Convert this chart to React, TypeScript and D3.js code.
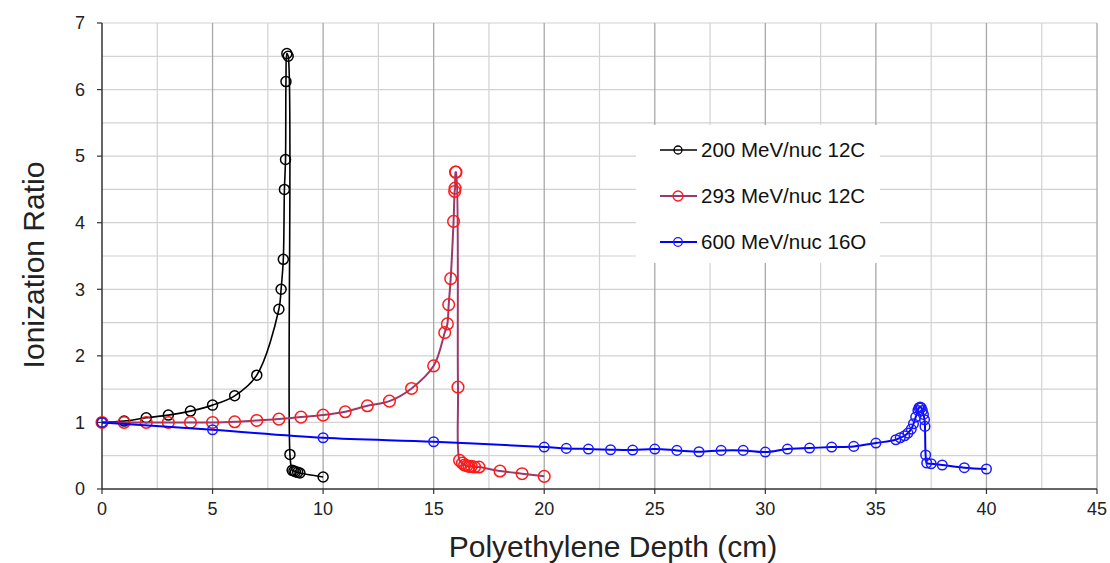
import React from "react";
import * as d3 from "d3";

const xTicks = [0, 5, 10, 15, 20, 25, 30, 35, 40, 45];
const yTicks = [0, 1, 2, 3, 4, 5, 6, 7];

const c200X = [0, 1, 2, 3, 4, 5, 6, 7, 8, 8.1, 8.2, 8.25, 8.3, 8.32, 8.36, 8.42, 8.5, 8.6, 8.68, 8.75, 8.85, 8.95, 10];
const c200Y = [1.0, 1.02, 1.07, 1.11, 1.17, 1.26, 1.4, 1.71, 2.7, 3.0, 3.45, 4.5, 4.95, 6.12, 6.54, 6.5, 0.52, 0.28, 0.27, 0.26, 0.25, 0.24, 0.18];

const c293X = [0, 1, 2, 3, 4, 5, 6, 7, 8, 9, 10, 11, 12, 13, 14, 15, 15.5, 15.62, 15.68, 15.77, 15.9, 15.95, 15.97, 15.99, 16.01, 16.1, 16.17, 16.3, 16.4, 16.5, 16.6, 16.7, 16.85, 17.05, 18, 19, 20];
const c293Y = [1.0, 1.0, 1.0, 1.0, 1.0, 1.0, 1.01, 1.03, 1.05, 1.08, 1.11, 1.16, 1.25, 1.32, 1.51, 1.85, 2.35, 2.48, 2.77, 3.16, 4.02, 4.47, 4.52, 4.76, 4.76, 1.53, 0.43, 0.39, 0.36, 0.35, 0.34, 0.34, 0.33, 0.33, 0.27, 0.23, 0.19];

const o600X = [0, 5, 10, 15, 20, 21, 22, 23, 24, 25, 26, 27, 28, 29, 30, 31, 32, 33, 34, 35, 35.9, 36.1, 36.3, 36.45, 36.6, 36.7, 36.8, 36.9, 36.95, 37.0, 37.05, 37.1, 37.15, 37.2, 37.22, 37.25, 37.3, 37.5, 38, 39, 40];
const o600Y = [1.0, 0.89, 0.77, 0.71, 0.63, 0.61, 0.6, 0.59, 0.585, 0.6, 0.58, 0.56, 0.58, 0.58, 0.555, 0.6, 0.615, 0.63, 0.64, 0.69, 0.74, 0.77, 0.8, 0.84, 0.9, 0.98, 1.08, 1.18, 1.22, 1.23, 1.22, 1.18, 1.12, 1.04, 0.94, 0.51, 0.39, 0.38, 0.36, 0.32, 0.3];

const seriesNames = ["200 MeV/nuc 12C", "293 MeV/nuc 12C", "600 MeV/nuc 16O"];

const FONT = "'Liberation Sans', Arial, sans-serif";

export default function App() {
  const W = 1110, H = 563;
  const x = d3.scaleLinear().domain([0, 45]).range([102, 1097]);
  const y = d3.scaleLinear().domain([0, 7]).range([489, 23]);

  const series = [
    { name: seriesNames[0], xs: c200X, ys: c200Y, line: "#000000", marker: "#000000", r: 5, lr: 4, lw: 1.6 },
    { name: seriesNames[1], xs: c293X, ys: c293Y, line: "#9a3a6c", marker: "#ff1a1a", r: 5.8, lr: 5, lw: 2 },
    { name: seriesNames[2], xs: o600X, ys: o600Y, line: "#0000ff", marker: "#1a1aff", r: 4.8, lr: 4.3, lw: 2 },
  ];

  const lineGen = d3
    .line<[number, number]>()
    .x((d) => x(d[0]))
    .y((d) => y(d[1]))
    .curve(d3.curveCatmullRom.alpha(0.5));

  const minorX = d3.range(0, 45.01, 2.5).filter((v) => v % 5 !== 0);
  const majorX = d3.range(5, 45.01, 5);
  const gridY = d3.range(0.5, 7.01, 0.5);

  const legend = { x: 636, y: 125, w: 244, h: 138 };
  const legendRows = [150, 196, 242];

  return (
    <svg width={W} height={H} style={{ position: "absolute", left: 0, top: 0, background: "#fff" }}>
      <rect x={0} y={0} width={W} height={H} fill="#fff" />
      {gridY.map((v) => (
        <line key={"gy" + v} x1={x(0)} x2={x(45)} y1={y(v)} y2={y(v)} stroke="#d2d2d2" strokeWidth={1.2} />
      ))}
      {minorX.map((v) => (
        <line key={"gmx" + v} x1={x(v)} x2={x(v)} y1={y(0)} y2={y(7)} stroke="#d2d2d2" strokeWidth={1.2} />
      ))}
      {majorX.map((v) => (
        <line key={"gx" + v} x1={x(v)} x2={x(v)} y1={y(0)} y2={y(7)} stroke="#a8a8a8" strokeWidth={1.3} />
      ))}
      <line x1={x(0)} x2={x(0)} y1={y(0)} y2={y(7)} stroke="#333" strokeWidth={1.5} />
      <line x1={x(0)} x2={x(45)} y1={y(0)} y2={y(0)} stroke="#333" strokeWidth={1.5} />
      {yTicks.map((v) => (
        <g key={"yt" + v}>
          <line x1={x(0) - 5} x2={x(0)} y1={y(v)} y2={y(v)} stroke="#333" strokeWidth={1.2} />
          <text x={80} y={y(v)} dy="0.35em" textAnchor="middle" fontFamily={FONT} fontSize={18} fill="#222">
            {v}
          </text>
        </g>
      ))}
      {xTicks.map((v) => (
        <g key={"xt" + v}>
          <line x1={x(v)} x2={x(v)} y1={y(0)} y2={y(0) + 5} stroke="#333" strokeWidth={1.2} />
          <text x={x(v)} y={y(0) + 26} textAnchor="middle" fontFamily={FONT} fontSize={18} fill="#222">
            {v}
          </text>
        </g>
      ))}
      <text x={613} y={557} textAnchor="middle" fontFamily={FONT} fontSize={30} fill="#222">
        Polyethylene Depth (cm)
      </text>
      <text
        transform={`translate(44, 265) rotate(-90)`}
        textAnchor="middle"
        fontFamily={FONT}
        fontSize={30}
        fill="#222"
      >
        Ionization Ratio
      </text>

      {series.map((s) => {
        const pts: [number, number][] = s.xs.map((v, i) => [v, s.ys[i]]);
        return (
          <g key={s.name}>
            <path d={lineGen(pts) || ""} fill="none" stroke={s.line} strokeWidth={s.lw} />
            {pts.map((p, i) => (
              <circle key={i} cx={x(p[0])} cy={y(p[1])} r={s.r} fill="none" stroke={s.marker} strokeWidth={1.5} />
            ))}
          </g>
        );
      })}

      <rect x={legend.x} y={legend.y} width={legend.w} height={legend.h} fill="#fff" />
      {series.map((s, i) => (
        <g key={"lg" + i}>
          <line x1={660} x2={697} y1={legendRows[i]} y2={legendRows[i]} stroke={s.line} strokeWidth={s.lw} />
          <circle cx={678} cy={legendRows[i]} r={s.lr} fill="none" stroke={s.marker} strokeWidth={1.3} />
          <text x={701} y={legendRows[i]} dy="0.36em" fontFamily={FONT} fontSize={20.5} fill="#111">
            {s.name}
          </text>
        </g>
      ))}
    </svg>
  );
}
